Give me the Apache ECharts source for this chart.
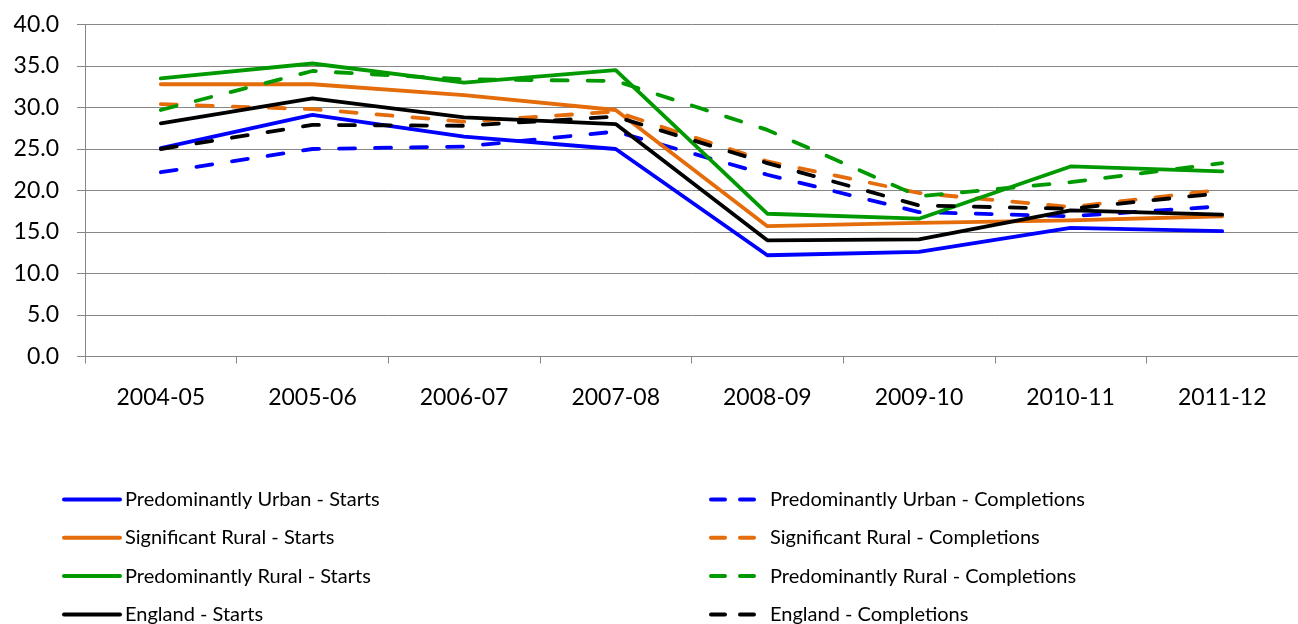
<!DOCTYPE html>
<html>
<head>
<meta charset="utf-8">
<style>
  html, body { margin: 0; padding: 0; background: #fff; }
  #chart { width: 1298px; height: 624px; }
</style>
</head>
<body>
<div id="chart"></div>
<script src="https://cdn.jsdelivr.net/npm/echarts@6/dist/echarts.min.js"></script>
<script>
var years = ['2004-05', '2005-06', '2006-07', '2007-08', '2008-09', '2009-10', '2010-11', '2011-12'];

var urbanStarts       = [25.1, 29.1, 26.5, 25.0, 12.2, 12.6, 15.5, 15.1];
var urbanCompletions  = [22.2, 25.0, 25.3, 27.1, 21.9, 17.4, 16.9, 18.1];
var sigRuralStarts    = [32.8, 32.8, 31.5, 29.7, 15.7, 16.1, 16.4, 16.9];
var sigRuralCompletions = [30.4, 29.8, 28.3, 29.5, 23.5, 19.7, 18.0, 20.1];
var predRuralStarts   = [33.5, 35.3, 33.0, 34.5, 17.2, 16.6, 22.9, 22.3];
var predRuralCompletions = [29.7, 34.4, 33.4, 33.2, 27.3, 19.3, 21.0, 23.3];
var englandStarts     = [28.1, 31.1, 28.8, 28.0, 14.0, 14.1, 17.6, 17.1];
var englandCompletions = [25.0, 27.9, 27.8, 28.9, 23.3, 18.2, 17.8, 19.7];

var startNames = ['Predominantly Urban - Starts', 'Significant Rural - Starts',
                  'Predominantly Rural - Starts', 'England - Starts'];
var compNames  = ['Predominantly Urban - Completions', 'Significant Rural - Completions',
                  'Predominantly Rural - Completions', 'England - Completions'];

var blue = '#0000ff', orange = '#e46c0a', green = '#009a00', black = '#000000';
var font = 'Lato, "Open Sans", sans-serif';

function line(name, data, color, dashed) {
    return {
        name: name,
        type: 'line',
        data: data,
        symbol: 'none',
        animation: false,
        lineStyle: {
            color: color,
            width: 3.8,
            type: dashed ? [16, 20] : 'solid',
            cap: 'round',
            join: 'round'
        },
        itemStyle: { color: color }
    };
}

var chart = echarts.init(document.getElementById('chart'));
chart.setOption({
    animation: false,
    grid: { left: 85, right: -8, top: 24.5, bottom: 267.5 },
    legend: [
        {
            orient: 'vertical',
            left: 62,
            top: 489.5,
            height: 160,
            padding: 0,
            itemWidth: 56,
            itemHeight: 14,
            itemGap: 18.3,
            selectedMode: false,
            data: startNames,
            itemStyle: { opacity: 0 },
            lineStyle: { width: 4, cap: 'round' },
            textStyle: { fontFamily: font, fontSize: 20, color: '#000' }
        },
        {
            orient: 'vertical',
            left: 709,
            top: 489.5,
            height: 160,
            padding: 0,
            itemWidth: 54,
            itemHeight: 14,
            itemGap: 18.3,
            selectedMode: false,
            data: compNames,
            itemStyle: { opacity: 0 },
            lineStyle: { width: 4, type: [14, 15], cap: 'round' },
            textStyle: { fontFamily: font, fontSize: 20, color: '#000' }
        }
    ],
    xAxis: {
        type: 'category',
        data: years,
        boundaryGap: true,
        axisLine: { lineStyle: { color: '#868686', width: 1 } },
        axisTick: { show: true, length: 7, lineStyle: { color: '#868686' } },
        axisLabel: { fontFamily: font, fontSize: 23, color: '#000', margin: 30 },
        splitLine: { show: false }
    },
    yAxis: {
        type: 'value',
        min: 0,
        max: 40,
        interval: 5,
        axisLine: { show: true, lineStyle: { color: '#868686', width: 1 } },
        axisTick: { show: true, length: 8, lineStyle: { color: '#868686' } },
        axisLabel: {
            fontFamily: font, fontSize: 23, color: '#000', margin: 26,
            formatter: function (v) { return v.toFixed(1); }
        },
        splitLine: { show: true, lineStyle: { color: '#868686', width: 1 } }
    },
    series: [
        line(startNames[0], urbanStarts, blue, false),
        line(compNames[0], urbanCompletions, blue, true),
        line(startNames[1], sigRuralStarts, orange, false),
        line(compNames[1], sigRuralCompletions, orange, true),
        line(startNames[2], predRuralStarts, green, false),
        line(compNames[2], predRuralCompletions, green, true),
        line(startNames[3], englandStarts, black, false),
        line(compNames[3], englandCompletions, black, true)
    ]
});
</script>
</body>
</html>
